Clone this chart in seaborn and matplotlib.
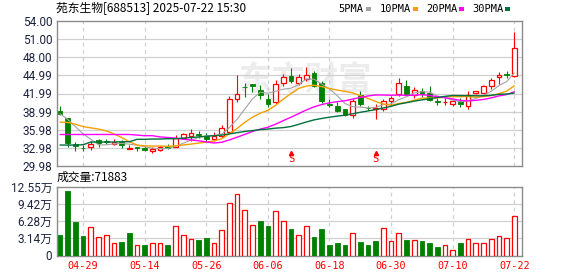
import numpy as np
import pandas as pd
import seaborn as sns
import matplotlib
matplotlib.use("Agg")
import matplotlib.pyplot as plt
from matplotlib.patches import Rectangle

# ---------------- data ----------------
dates = ["04-24", "04-25", "04-28", "04-29", "04-30", "05-06", "05-07", "05-08", "05-09", "05-12",
         "05-13", "05-14", "05-15", "05-16", "05-19", "05-20", "05-21", "05-22", "05-23", "05-26",
         "05-27", "05-28", "05-29", "05-30", "06-03", "06-04", "06-05", "06-06", "06-09", "06-10",
         "06-11", "06-12", "06-13", "06-16", "06-17", "06-18", "06-19", "06-20", "06-23", "06-24",
         "06-25", "06-26", "06-27", "06-30", "07-01", "07-02", "07-03", "07-04", "07-07", "07-08",
         "07-09", "07-10", "07-11", "07-14", "07-15", "07-16", "07-17", "07-18", "07-21", "07-22"]
open_ = [39.15, 37.85, 33.70, 33.00, 33.06, 34.26, 34.20, 33.63, 33.92, 32.80,
         33.05, 33.00, 32.40, 32.70, 33.30, 33.16, 34.70, 34.95, 35.20, 35.00,
         34.52, 34.87, 35.66, 41.05, 43.10, 43.50, 42.55, 41.10, 40.60, 43.75,
         44.90, 43.75, 44.40, 45.35, 43.70, 40.25, 39.85, 39.35, 38.35, 41.70,
         39.65, 39.45, 39.40, 40.80, 41.90, 43.20, 41.70, 42.45, 42.05, 40.70,
         40.58, 40.20, 40.75, 39.95, 42.00, 42.15, 43.26, 44.70, 45.25, 44.85]
high = [39.85, 37.95, 34.00, 33.40, 34.10, 34.40, 34.45, 34.50, 34.25, 33.45,
        33.10, 33.30, 33.10, 33.35, 33.60, 35.05, 35.50, 36.10, 35.80, 35.40,
        35.60, 36.85, 41.60, 45.10, 43.70, 43.60, 43.40, 41.90, 44.20, 45.20,
        46.20, 45.20, 46.40, 45.80, 44.00, 41.00, 40.50, 39.50, 41.00, 42.40,
        40.00, 40.20, 41.05, 41.60, 44.50, 44.30, 43.00, 42.90, 43.25, 41.30,
        41.20, 40.90, 41.20, 42.40, 42.45, 43.40, 44.60, 45.50, 45.80, 52.20]
low = [38.40, 33.10, 32.45, 32.50, 32.60, 33.10, 33.65, 33.47, 33.00, 32.75,
       32.45, 32.45, 32.10, 32.50, 32.85, 33.05, 34.40, 34.10, 34.65, 34.00,
       34.20, 34.65, 35.50, 40.60, 41.35, 42.20, 41.00, 39.70, 40.30, 43.30,
       43.80, 43.40, 44.10, 43.00, 40.40, 39.80, 38.85, 38.30, 38.00, 39.90,
       39.30, 37.70, 39.10, 39.85, 41.60, 41.70, 41.30, 41.40, 40.75, 40.10,
       40.10, 40.00, 39.80, 39.40, 41.95, 42.00, 42.70, 43.60, 44.50, 44.65]
close = [38.55, 33.80, 33.30, 32.90, 33.58, 33.80, 33.88, 33.98, 33.41, 32.88,
         32.95, 32.60, 32.80, 33.06, 32.98, 34.66, 35.20, 35.50, 35.12, 34.50,
         34.90, 36.20, 41.04, 41.95, 43.00, 43.30, 41.70, 40.30, 43.50, 44.75,
         44.10, 44.65, 45.00, 43.30, 40.70, 40.15, 39.10, 38.40, 40.75, 40.20,
         39.55, 39.50, 40.80, 41.20, 43.80, 41.95, 42.65, 41.85, 40.85, 40.60,
         40.62, 40.68, 40.30, 41.80, 42.35, 43.20, 44.15, 45.00, 45.10, 49.50]
volume_wan = [3.66, 11.70, 6.04, 3.48, 5.24, 3.41, 3.78, 2.20, 2.38, 4.02,
              1.95, 1.83, 2.20, 2.20, 2.00, 5.43, 3.78, 3.05, 2.74, 3.11,
              2.32, 4.70, 9.63, 11.28, 8.35, 5.60, 6.22, 5.30, 8.17, 6.34,
              4.76, 3.78, 5.43, 3.29, 4.76, 2.00, 2.20, 1.83, 4.15, 2.38,
              2.00, 2.56, 5.06, 2.68, 4.15, 2.74, 2.87, 2.56, 2.20, 1.46,
              1.95, 1.04, 2.20, 3.05, 2.20, 2.32, 3.05, 3.60, 3.23, 7.1883]
# moving-average values before a full window exists inside the shown range
ma5_head = [38.65, 37.70, 36.50, 35.30]
ma10_head = [37.25, 37.20, 36.90, 36.50, 36.30, 36.10, 35.80, 35.30, 34.70]
ma20_head = [35.20, 35.20, 35.20, 35.20, 35.20, 35.20, 35.20, 35.20, 35.20, 35.20,
             35.10, 35.00, 35.00, 34.80, 34.70, 34.60, 34.40, 34.30, 34.15]
ma30_head = [33.45, 33.45, 33.45, 33.50, 33.95, 33.95, 33.95, 33.95, 34.00, 34.00,
             34.40, 34.40, 34.45, 34.45, 34.50, 34.50, 34.60, 34.70, 34.80, 34.90,
             35.00, 35.10, 35.30, 35.50, 35.70, 35.85, 36.00, 36.10, 36.25]
price_tick_labels = ["29.98", "32.98", "35.98", "38.99", "41.99", "44.99", "48.00", "51.00", "54.00"]
price_min, price_max = 29.98, 54.00
vol_tick_values = [0, 3.14, 6.28, 9.42, 12.55]
vol_tick_labels = ["0", "3.14万", "6.28万", "9.42万", "12.55万"]
date_label_idx = [3, 11, 19, 27, 35, 43, 51, 59]
s_mark_idx = [30, 41]
title = "苑东生物[688513] 2025-07-22 15:30"
ma_names = ["5PMA", "10PMA", "20PMA", "30PMA"]
ma_windows = [5, 10, 20, 30]
ma_heads = [ma5_head, ma10_head, ma20_head, ma30_head]

# ---------------- styles ----------------
RED = "#ff0000"
GREEN = "#008000"
MA_COLORS = ["#a3a3a3", "#f5a000", "#ff00ff", "#00703c"]
GRID = "#d0d0d0"
SPINE = "#8c8c8c"
LABEL = "#1c2340"
CJK = ["Noto Sans CJK SC", "DejaVu Sans"]

sns.set_style("white")
plt.rcParams["font.family"] = ["Noto Sans CJK SC", "DejaVu Sans"]

W, H = 578, 276
fig = plt.figure(figsize=(W / 100, H / 100), dpi=100)

def px_axes(x0, y0, x1, y1):
    return fig.add_axes([x0 / W, 1 - y1 / H, (x1 - x0) / W, (y1 - y0) / H])

ax = px_axes(56.5, 21.0, 522.3, 166.0)
axv = px_axes(56.5, 186.7, 522.3, 255.5)

n = len(close)
idx = np.arange(n)
df = pd.DataFrame({"i": idx, "open": open_, "high": high, "low": low, "close": close, "vol": volume_wan})
xmin, xmax = -0.455, 60.04

# moving averages
for name, w, head in zip(ma_names, ma_windows, ma_heads):
    ma = df["close"].rolling(w).mean().to_numpy()
    ma[: len(head)] = head
    df[name] = ma

# watermark (behind everything in the price panel)
ax.text((305 - 56.5) / (522.3 - 56.5), (166 - 81) / (166 - 21), "东方财富", transform=ax.transAxes,
        ha="center", va="center", fontsize=24, fontweight="bold", color="#ececec",
        family=CJK, zorder=0.5)

up = df["close"] >= df["open"]
bw = 0.62
# wicks
for i, r in df.iterrows():
    if up[i]:
        ax.vlines(i, r["close"], r["high"], color=RED, lw=0.8, zorder=3)
        ax.vlines(i, r["low"], r["open"], color=RED, lw=0.8, zorder=3)
    else:
        ax.vlines(i, r["low"], r["high"], color=GREEN, lw=0.8, zorder=3)
body_lo = np.minimum(df["open"], df["close"])
body_h = np.maximum(np.abs(df["close"] - df["open"]), 0.06)
ax.bar(idx[up], body_h[up], bottom=body_lo[up], width=bw, facecolor="white",
       edgecolor=RED, lw=0.9, zorder=4)
ax.bar(idx[~up], body_h[~up], bottom=body_lo[~up], width=bw, facecolor=GREEN,
       edgecolor=GREEN, lw=0.6, zorder=4)

# MA lines
for name, c in zip(ma_names, MA_COLORS):
    sns.lineplot(data=df, x="i", y=name, ax=ax, color=c, lw=1.0 if name != "5PMA" else 0.8,
                 zorder=5, legend=False)

# volume
prev = np.r_[df["open"].iloc[0], df["close"].to_numpy()[:-1]]
vup = df["close"].to_numpy() > prev
axv.bar(idx[vup], df["vol"][vup], width=bw, facecolor="white", edgecolor=RED, lw=0.9, zorder=3)
axv.bar(idx[~vup], df["vol"][~vup], width=bw, facecolor=GREEN, edgecolor=GREEN, lw=0.6, zorder=3)

# axes styling
yt = np.linspace(price_min, price_max, len(price_tick_labels))
for a, ylim, ticks in [(ax, (price_min, price_max), yt), (axv, (0, vol_tick_values[-1]), vol_tick_values)]:
    a.set_xlim(xmin, xmax)
    a.set_ylim(*ylim)
    a.set_xlabel("")
    a.set_ylabel("")
    for t in ticks[1:-1]:
        a.axhline(t, color=GRID, lw=0.9, zorder=1)
    for d in date_label_idx:
        a.axvline(d, color=GRID, lw=0.9, ls=(0, (3, 3)), zorder=1)
    for s in a.spines.values():
        s.set_visible(True)
        s.set_color(SPINE)
        s.set_linewidth(1.0)
    a.set_xticks([])
    a.set_yticks(ticks)
    a.tick_params(axis="y", length=0, pad=3, colors=LABEL, labelsize=8.5)

ax.set_yticklabels(price_tick_labels, family=["Roboto", "DejaVu Sans"])
axv.set_yticklabels(vol_tick_labels, family=["Roboto", "Noto Sans CJK SC"])

# date labels
for d in date_label_idx:
    axv.text(d, -10.5 / 68.8, dates[d], transform=axv.get_xaxis_transform(), ha="center",
             va="center", color=RED, fontsize=7.3, family="DejaVu Sans Mono")

# S markers
for s in s_mark_idx:
    ax.text(s, 31.15, "S", ha="center", va="center", color=RED, fontsize=7.5,
            family="DejaVu Sans Mono", zorder=6)
    ax.plot([s], [32.1], marker="^", ms=3, color=RED, zorder=6)

# title
fig.text(56.5 / W, 1 - 8.5 / H, title, ha="left", va="center", fontsize=8.5, color="#000000", family=CJK)

# legend
leg_x = [338, 380, 426, 472]
mark_x = [366, 412.5, 458.5, 505]
for name, c, lx, mx in zip(ma_names, MA_COLORS, leg_x, mark_x):
    fig.text(lx / W, 1 - 9 / H, name, ha="left", va="center", fontsize=7.5, color="#000000",
             family="DejaVu Sans Mono")
    fig.add_artist(Rectangle((mx / W, 1 - 10.5 / H), 5 / W, 3 / H, transform=fig.transFigure,
                             color=c, lw=0))

# volume title
fig.text(56.5 / W, 1 - 177.7 / H, "成交量:" + str(int(round(volume_wan[-1] * 10000))), ha="left",
         va="center", fontsize=8.5, color="#000000", family=CJK)

fig.savefig("out.png", dpi=100)
